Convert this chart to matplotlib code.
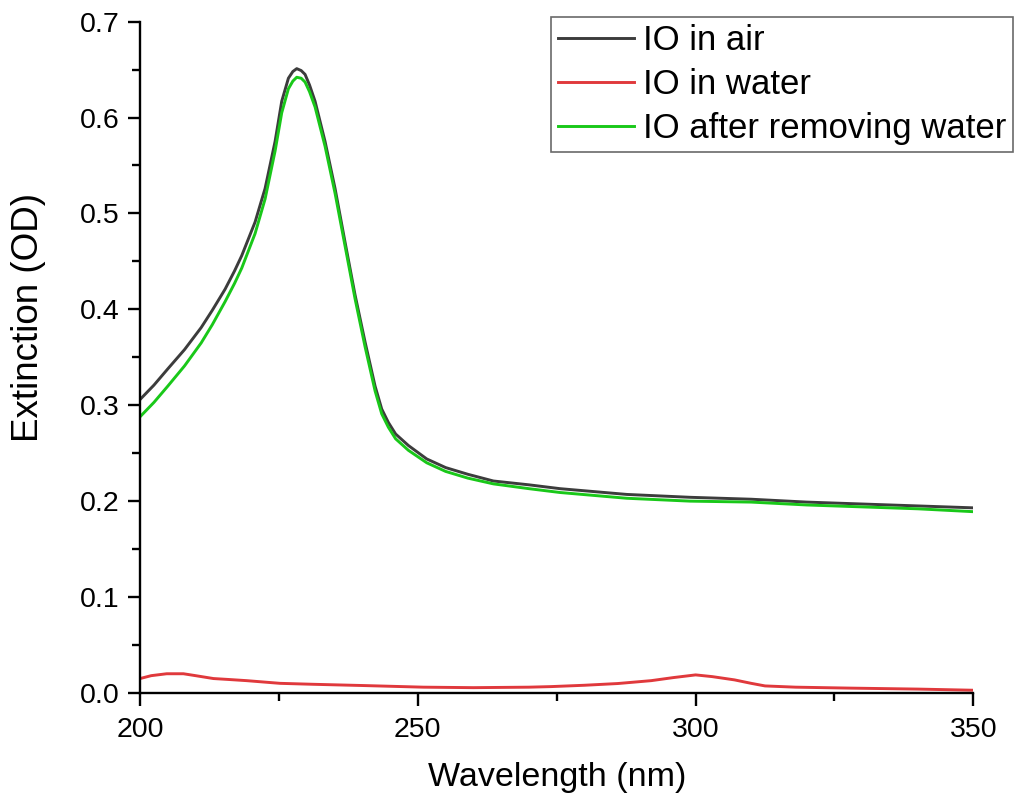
import matplotlib
matplotlib.use("Agg")
import matplotlib.pyplot as plt
from matplotlib.ticker import MultipleLocator

plt.rcParams['font.family'] = ['Liberation Sans', 'DejaVu Sans']

# wavelength (nm) and extinction
wl = [200, 202.5, 205, 208, 211, 213, 215.3, 217, 218.3, 220.7, 222.5, 224.3, 225.5,
      226.7, 227.5, 228.2, 229, 229.7, 230.5, 231.5, 233.3, 235.1, 236.9, 238.7, 240.5,
      242.3, 243.5, 244.7, 246, 248.3, 251.6, 255, 259, 263.6, 270, 275.6, 287.6, 299,
      310, 320, 330, 340, 350]
io_air = [0.306, 0.321, 0.338, 0.358, 0.381, 0.399, 0.421, 0.440, 0.456, 0.491, 0.526,
          0.575, 0.617, 0.641, 0.648, 0.651, 0.649, 0.645, 0.634, 0.617, 0.575, 0.526,
          0.470, 0.415, 0.366, 0.320, 0.296, 0.282, 0.270, 0.258, 0.244, 0.235, 0.228,
          0.221, 0.217, 0.213, 0.207, 0.204, 0.202, 0.199, 0.197, 0.195, 0.193]
io_dry = [0.288, 0.303, 0.320, 0.341, 0.365, 0.384, 0.408, 0.427, 0.443, 0.479, 0.515,
          0.565, 0.605, 0.630, 0.638, 0.642, 0.641, 0.637, 0.627, 0.611, 0.570, 0.521,
          0.466, 0.411, 0.361, 0.315, 0.291, 0.277, 0.265, 0.253, 0.240, 0.231, 0.224,
          0.218, 0.213, 0.209, 0.203, 0.200, 0.199, 0.196, 0.194, 0.192, 0.189]

wl_water = [200, 202, 204.8, 207.8, 210, 213.2, 216, 219.2, 225.2, 231.2, 240.2, 251,
            260, 270, 274, 280, 286, 292, 296, 300, 303, 307, 310, 312.5, 318, 328, 340, 350]
io_water = [0.015, 0.018, 0.020, 0.020, 0.018, 0.015, 0.014, 0.0128, 0.010, 0.009,
            0.0077, 0.006, 0.0055, 0.006, 0.0066, 0.008, 0.0098, 0.0128, 0.016, 0.0188,
            0.017, 0.0136, 0.010, 0.0073, 0.006, 0.005, 0.004, 0.0028]

labels = ['IO in air', 'IO in water', 'IO after removing water']

fig = plt.figure(figsize=(10.15, 8.02), dpi=100)
ax = fig.add_axes([0.138, 0.136, 0.821, 0.837])

ax.plot(wl, io_air, color='#3c3c3c', lw=2.1, label=labels[0])
ax.plot(wl_water, io_water, color='#e0393c', lw=2.1, label=labels[1])
ax.plot(wl, io_dry, color='#19c819', lw=2.1, label=labels[2])

ax.set_xlim(200, 350)
ax.set_ylim(0, 0.7)
ax.xaxis.set_major_locator(MultipleLocator(50))
ax.xaxis.set_minor_locator(MultipleLocator(25))
ax.yaxis.set_major_locator(MultipleLocator(0.1))
ax.yaxis.set_minor_locator(MultipleLocator(0.05))
ax.yaxis.set_major_formatter(plt.FormatStrFormatter('%.1f'))

for s in ['top', 'right']:
    ax.spines[s].set_visible(False)
for s in ['left', 'bottom']:
    ax.spines[s].set_linewidth(1.7)

ax.tick_params(which='major', direction='out', length=9, width=1.7, labelsize=20.5)
ax.tick_params(axis='x', which='major', pad=8)
ax.tick_params(axis='y', which='major', pad=6)
ax.tick_params(which='minor', direction='out', length=5.5, width=1.7)

ax.set_xlabel('Wavelength (nm)', fontsize=24.5, labelpad=14)
ax.set_ylabel('Extinction (OD)', fontsize=26.5)
ax.yaxis.set_label_coords(-0.113, 0.56)

leg = ax.legend(loc='upper right', bbox_to_anchor=(0.998, 0.979), bbox_transform=fig.transFigure,
                fontsize=25, frameon=True, fancybox=False, handlelength=2.2,
                handletextpad=0.25, borderpad=0.2, labelspacing=0.32, borderaxespad=0)
leg.get_frame().set_edgecolor('#444444')
leg.get_frame().set_linewidth(1.2)

fig.savefig('out.png', dpi=100)
